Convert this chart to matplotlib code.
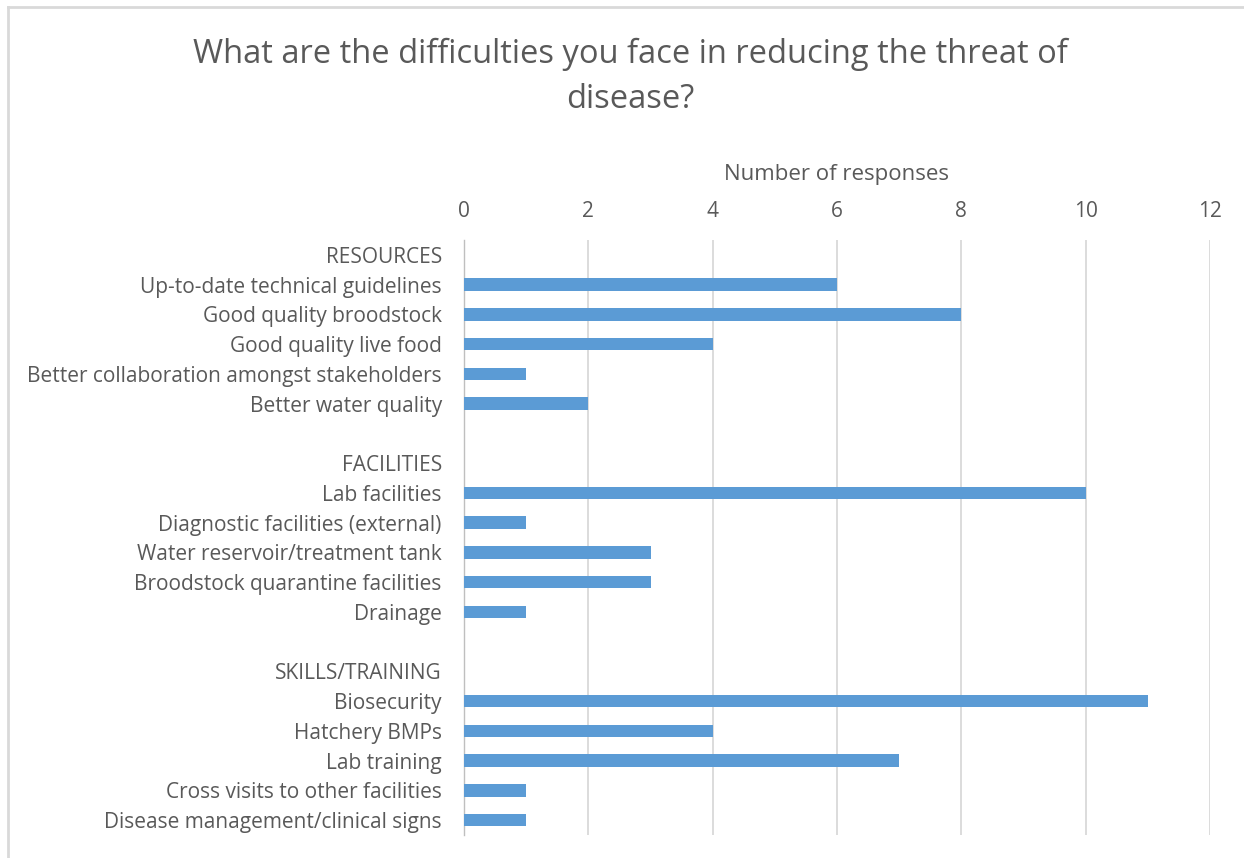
import matplotlib
matplotlib.use("Agg")
import matplotlib.pyplot as plt
from matplotlib.lines import Line2D

categories = [
    "RESOURCES",
    "Up-to-date technical guidelines",
    "Good quality broodstock",
    "Good quality live food",
    "Better collaboration amongst stakeholders",
    "Better water quality",
    "",
    "FACILITIES",
    "Lab facilities",
    "Diagnostic facilities (external)",
    "Water reservoir/treatment tank",
    "Broodstock quarantine facilities",
    "Drainage",
    "",
    "SKILLS/TRAINING",
    "Biosecurity",
    "Hatchery BMPs",
    "Lab training",
    "Cross visits to other facilities",
    "Disease management/clinical signs",
]
# None marks header / spacer rows that carry no bar
responses = [None, 6, 8, 4, 1, 2, None, None, 10, 1, 3, 3, 1, None, None, 11, 4, 7, 1, 1]
x_ticks = [0, 2, 4, 6, 8, 10, 12]

title = "What are the difficulties you face in reducing the threat of\ndisease?"
x_label = "Number of responses"

text_color = "#595959"
bar_color = "#5B9BD5"
grid_color = "#D9D9D9"
plt.rcParams["font.family"] = ["Open Sans", "DejaVu Sans"]

fig = plt.figure(figsize=(12.44, 8.58), dpi=100)
W, H = 1244, 858
ax = fig.add_axes([464 / W, 1 - 835 / H, (1210 - 464) / W, (835 - 240) / H])

# outer chart border: left and top edges
fig.add_artist(Line2D([8 / W, 8 / W], [0, 1 - 7 / H], transform=fig.transFigure,
                      color="#D9D9D9", linewidth=2))
fig.add_artist(Line2D([8 / W, 1], [1 - 7 / H, 1 - 7 / H], transform=fig.transFigure,
                      color="#D9D9D9", linewidth=2))

rows = list(range(len(categories)))
bar_rows = [r for r, v in zip(rows, responses) if v is not None]
bar_vals = [v for v in responses if v is not None]
ax.barh(bar_rows, bar_vals, height=0.42, color=bar_color, zorder=3)

ax.set_ylim(len(categories) - 0.5, -0.5)
ax.set_xlim(0, 12)
ax.set_xticks(x_ticks)
ax.xaxis.tick_top()
ax.xaxis.set_label_position("top")
ax.set_xlabel(x_label, fontsize=16, color=text_color, labelpad=15)
ax.set_yticks(rows)
ax.set_yticklabels(categories, fontsize=15, color=text_color)
ax.tick_params(axis="both", length=0, colors=text_color, labelsize=15)
ax.tick_params(axis="y", pad=16)
ax.tick_params(axis="x", pad=13)
ax.grid(axis="x", color=grid_color, linewidth=1.3, zorder=0)
for s in ["top", "right", "bottom"]:
    ax.spines[s].set_visible(False)
ax.spines["left"].set_color("#BFBFBF")
ax.spines["left"].set_linewidth(1.0)

fig.text(630 / W, 1 - 77 / H, title, ha="center", va="center", fontsize=23.5,
         color=text_color, linespacing=1.5)

fig.savefig("out.png", dpi=100, facecolor="white")
